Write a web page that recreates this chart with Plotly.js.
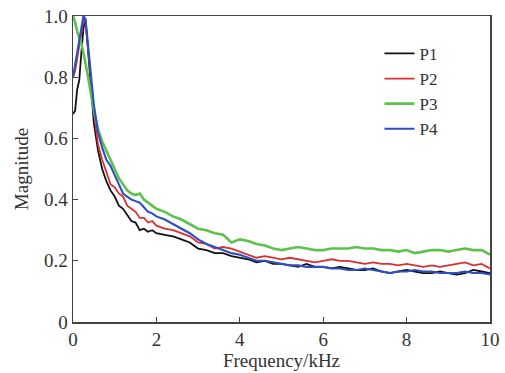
<!DOCTYPE html>
<html>
<head>
<meta charset="utf-8">
<script src="https://cdn.plot.ly/plotly-3.0.1.min.js"></script>
<style>html,body{margin:0;padding:0;background:#fff;}#chart{width:505px;height:373px;}</style>
</head>
<body>
<div id="chart"></div>
<script>
var freq = [0,0.05,0.1,0.15,0.2,0.25,0.3,0.35,0.4,0.45,0.5,
  0.6,0.7,0.8,0.9,1.0,1.1,1.2,1.3,1.4,1.5,1.6,1.7,1.8,1.9,2.0,
  2.2,2.4,2.6,2.8,3.0,3.2,3.4,3.6,3.8,4.0,4.2,4.4,4.6,4.8,5.0,5.2,5.4,5.6,5.8,6.0,
  6.2,6.4,6.6,6.8,7.0,7.2,7.4,7.6,7.8,8.0,8.2,8.4,8.6,8.8,9.0,9.2,9.4,9.6,9.8,10.0];

var p1 = [0.68,0.69,0.76,0.79,0.88,0.96,0.99,0.90,0.80,0.72,0.65,
  0.56,0.50,0.46,0.43,0.41,0.38,0.37,0.35,0.33,0.325,0.30,0.305,0.295,0.30,0.29,
  0.285,0.28,0.27,0.26,0.24,0.235,0.225,0.225,0.215,0.21,0.205,0.195,0.20,0.19,0.19,0.185,0.18,0.19,0.18,0.18,
  0.175,0.18,0.175,0.17,0.17,0.175,0.165,0.16,0.165,0.17,0.165,0.16,0.16,0.165,0.16,0.155,0.16,0.17,0.165,0.16];

var p2 = [0.80,0.82,0.86,0.90,0.95,0.99,0.98,0.92,0.84,0.76,0.69,
  0.58,0.53,0.49,0.45,0.44,0.42,0.41,0.38,0.37,0.36,0.34,0.34,0.325,0.33,0.315,
  0.305,0.30,0.29,0.28,0.26,0.255,0.24,0.245,0.24,0.23,0.22,0.21,0.215,0.21,0.205,0.21,0.205,0.20,0.195,0.20,
  0.205,0.20,0.20,0.195,0.19,0.195,0.19,0.19,0.185,0.19,0.185,0.18,0.185,0.18,0.185,0.19,0.195,0.185,0.19,0.175];

var p3 = [1.0,0.98,0.95,0.93,0.91,0.88,0.85,0.81,0.77,0.73,0.69,
  0.63,0.59,0.56,0.53,0.50,0.47,0.45,0.43,0.42,0.415,0.42,0.40,0.39,0.38,0.37,
  0.36,0.345,0.335,0.32,0.305,0.30,0.29,0.285,0.26,0.27,0.265,0.255,0.25,0.24,0.235,0.24,0.245,0.24,0.235,0.235,
  0.24,0.24,0.24,0.245,0.24,0.24,0.235,0.235,0.23,0.235,0.225,0.23,0.235,0.235,0.23,0.235,0.24,0.235,0.235,0.22];

var p4 = [0.80,0.84,0.88,0.93,0.97,1.0,0.99,0.93,0.85,0.78,0.71,
  0.62,0.57,0.53,0.51,0.48,0.45,0.42,0.41,0.40,0.395,0.39,0.375,0.36,0.355,0.345,
  0.335,0.32,0.305,0.29,0.27,0.255,0.245,0.235,0.225,0.22,0.21,0.20,0.20,0.195,0.19,0.185,0.185,0.18,0.18,0.18,
  0.175,0.175,0.17,0.17,0.175,0.17,0.165,0.16,0.165,0.165,0.17,0.165,0.165,0.16,0.16,0.16,0.165,0.16,0.16,0.155];

var names = ["P1","P2","P3","P4"];
var colors = ["#111111","#d8302e","#5cc24a","#2d4fc6"];
var widths = [1.8,1.8,2.6,2.1];
var series = [p1,p2,p3,p4];

var xTicks = [0,2,4,6,8,10];
var xTickText = ["0","2","4","6","8","10"];
var yTicks = [0,0.2,0.4,0.6,0.8,1.0];
var yTickText = ["0","0.2","0.4","0.6","0.8","1.0"];

var traces = series.map(function(s,i){
  return {x:freq, y:s, type:"scatter", mode:"lines", name:names[i],
    line:{color:colors[i], width:widths[i]}};
});

var fontFam = "'Liberation Serif','DejaVu Serif',serif";
var layout = {
  width:505, height:373,
  margin:{l:73, r:15, t:16, b:51},
  paper_bgcolor:"#fff", plot_bgcolor:"#fff",
  font:{family:fontFam, size:19, color:"#333"},
  showlegend:true,
  legend:{x:0.735, y:0.935, xanchor:"left", yanchor:"top", bgcolor:"rgba(0,0,0,0)",
    font:{family:fontFam, size:17, color:"#333"}, tracegroupgap:0, itemwidth:30},
  xaxis:{range:[0,10], tickvals:xTicks, ticktext:xTickText, ticks:"inside", ticklen:5,
    tickcolor:"#444", showline:true, linecolor:"#444", linewidth:1.5, mirror:true,
    showgrid:false, zeroline:false,
    title:{text:"Frequency/kHz", font:{family:fontFam, size:19, color:"#333"}, standoff:2},
    tickfont:{family:fontFam, size:19, color:"#333"}},
  yaxis:{range:[0,1.0], tickvals:yTicks, ticktext:yTickText, ticks:"inside", ticklen:5,
    tickcolor:"#444", showline:true, linecolor:"#444", linewidth:1.5, mirror:true,
    showgrid:false, zeroline:false,
    title:{text:"Magnitude", font:{family:fontFam, size:19, color:"#333"}, standoff:10},
    tickfont:{family:fontFam, size:19, color:"#333"}}
};
Plotly.newPlot("chart", traces, layout, {displayModeBar:false, staticPlot:true});
</script>
</body>
</html>
